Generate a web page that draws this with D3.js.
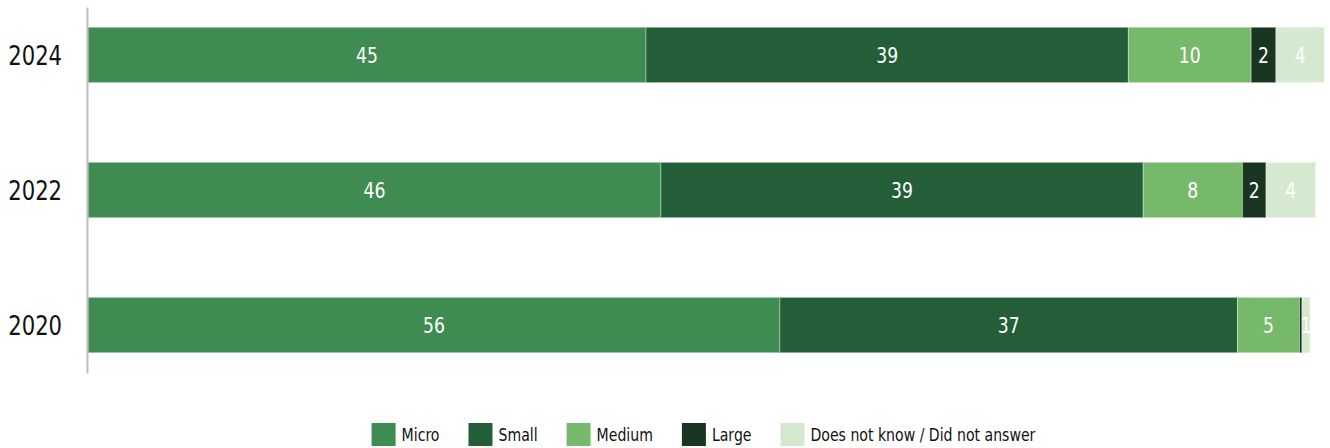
<!DOCTYPE html>
<html>
<head>
<meta charset="utf-8">
<script src="https://cdn.jsdelivr.net/npm/d3@7"></script>
<style>
    body { margin: 0; background: #fff; }
    #chart { width: 1330px; height: 448px; }
    .chart-text { font-family: "Liberation Sans Narrow", "DejaVu Sans Condensed", "Arial Narrow", sans-serif; }
    .year-axis text { font-size: 27px; fill: #111; }
    .year-axis path { stroke: #bdbdbd; stroke-width: 2; }
    .bar-label { font-size: 22px; fill: #fff; text-anchor: middle; }
    .legend-label { font-size: 18px; fill: #111; }
</style>
</head>
<body>
<div id="chart"></div>
<script>
// data
const years = ["2024", "2022", "2020"];
const seriesNames = ["Micro", "Small", "Medium", "Large", "Does not know / Did not answer"];
const seriesColors = ["#3f8c52", "#245e38", "#77b96b", "#1a3522", "#d5e8d0"];

// bar lengths (percent)
const micro = [45.0, 46.2, 55.8];
const small = [38.9, 38.9, 36.9];
const medium = [9.9, 8.0, 5.0];
const large = [2.0, 1.9, 0.2];
const noAnswer = [3.9, 4.0, 0.65];

// printed labels
const microLabels = ["45", "46", "56"];
const smallLabels = ["39", "39", "37"];
const mediumLabels = ["10", "8", "5"];
const largeLabels = ["2", "2", ""];
const noAnswerLabels = ["4", "4", "1"];

// squeeze for the condensed look of the original font
const squeeze = 0.87;

function renderChart() {
    const width = 1330;
    const height = 448;

    const svg = d3.select("#chart").append("svg")
        .attr("width", width)
        .attr("height", height)
        .attr("class", "chart-text");

    const series = [micro, small, medium, large, noAnswer];
    const labels = [microLabels, smallLabels, mediumLabels, largeLabels, noAnswerLabels];

    const xScale = d3.scaleLinear()
        .domain([0, 100])
        .range([88, 1328]);

    const yScale = d3.scaleBand()
        .domain(years)
        .range([7, 373])
        .paddingInner(0.59)
        .paddingOuter(0.15);

    // add bars
    years.forEach(function (year, i) {
        let start = 0;
        for (let s = 0; s < series.length; s++) {
            const value = series[s][i];
            svg.append("rect")
                .attr("x", xScale(start))
                .attr("y", yScale(year))
                .attr("width", xScale(start + value) - xScale(start))
                .attr("height", yScale.bandwidth())
                .attr("fill", seriesColors[s])
                .attr("stroke", "rgba(255,255,255,0.35)")
                .attr("stroke-width", 1);

            if (labels[s][i] !== "") {
                svg.append("text")
                    .attr("class", "bar-label")
                    .attr("transform", `translate(${xScale(start + value / 2)}, ${yScale(year) + yScale.bandwidth() / 2}) scale(${squeeze}, 1)`)
                    .attr("dy", "0.36em")
                    .text(labels[s][i]);
            }
            start += value;
        }
    });

    // add y-axis
    svg.append("g")
        .attr("class", "year-axis")
        .attr("transform", "translate(87, 0)")
        .call(d3.axisLeft(yScale).tickSize(0).tickPadding(25 / squeeze).tickSizeOuter(0))
        .call(function (g) {
            g.selectAll("text")
                .attr("class", "chart-text")
                .attr("dy", "0.36em")
                .attr("transform", `scale(${squeeze}, 1)`);
        });

    // add legend
    const legend = svg.append("g");
    let x = 0;
    seriesNames.forEach(function (name, s) {
        const item = legend.append("g").attr("transform", `translate(${x}, 0)`);
        item.append("rect")
            .attr("width", 24)
            .attr("height", 23)
            .attr("fill", seriesColors[s]);
        const t = item.append("text")
            .attr("class", "legend-label")
            .attr("transform", `translate(30, 12) scale(${squeeze}, 1)`)
            .attr("dy", "0.36em")
            .text(name);
        x += 30 + t.node().getComputedTextLength() * squeeze + 29;
    });
    const legendWidth = x - 29;
    legend.attr("transform", `translate(${(376 + 1031) / 2 - legendWidth / 2}, 423)`);
}

renderChart();
</script>
</body>
</html>
